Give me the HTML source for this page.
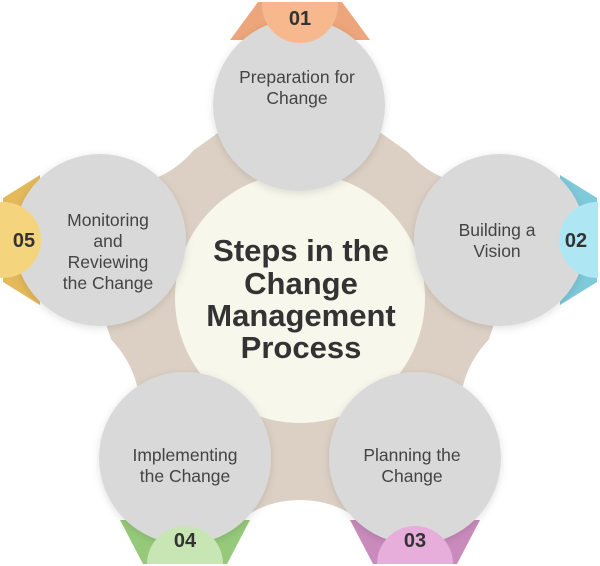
<!DOCTYPE html>
<html><head><style>
html,body{margin:0;padding:0;background:#fff;overflow:hidden;width:600px;height:566px;}
svg{display:block;}
text{font-family:"Liberation Sans",sans-serif;}
</style></head><body>
<svg width="600" height="566" viewBox="0 0 600 566" xmlns="http://www.w3.org/2000/svg">
<defs>
<clipPath id="pg"><rect x="0" y="2" width="598" height="562"/></clipPath>
<filter id="sh" x="-20%" y="-20%" width="140%" height="140%"><feDropShadow dx="0" dy="2" stdDeviation="4" flood-color="#000" flood-opacity="0.12"/></filter>
</defs>
<polygon points="299,75 525,235 440,480 160,480 75,235" fill="#dcd0c4"/>
<polygon points="299,100 500,240 415,520 185,520 100,240" fill="#dcd0c4"/>
<g fill="#fff">
<circle cx="480" cy="90" r="95"/>
<circle cx="120" cy="90" r="95"/>
<circle cx="300" cy="600" r="100"/>
<circle cx="560" cy="410" r="100"/>
<circle cx="40" cy="410" r="100"/>
</g>
<circle cx="300" cy="298" r="125" fill="#f7f7ec"/>
<g clip-path="url(#pg)">
<polygon points="258,2 342,2 370,40 230,40" fill="#eda57b"/>
<polygon points="597,198 597,282 560,305 560,175" fill="#7ec9da"/>
<polygon points="457,564 373,564 350,520 480,520" fill="#c98bbc"/>
<polygon points="227,564 143,564 120,520 250,520" fill="#96c97a"/>
<polygon points="3,198 3,282 40,305 40,175" fill="#e3b95a"/>
<circle cx="299" cy="105" r="86" fill="#d9d9d9" filter="url(#sh)"/>
<circle cx="500" cy="240" r="86" fill="#d9d9d9" filter="url(#sh)"/>
<circle cx="415" cy="458" r="86" fill="#d9d9d9" filter="url(#sh)"/>
<circle cx="185" cy="458" r="86" fill="#d9d9d9" filter="url(#sh)"/>
<circle cx="100" cy="240" r="86" fill="#d9d9d9" filter="url(#sh)"/>
<circle cx="300" cy="5" r="38" fill="#f8b88e"/>
<circle cx="597" cy="240" r="38" fill="#aee6f3"/>
<circle cx="415" cy="564" r="38" fill="#e8aedb"/>
<circle cx="185" cy="564" r="38" fill="#c8e6b4"/>
<circle cx="3" cy="240" r="38" fill="#f5d47e"/>
</g>
<g font-weight="bold" font-size="20" fill="#333" text-anchor="middle">
<text x="300" y="25">01</text>
<text x="576" y="247">02</text>
<text x="415" y="547">03</text>
<text x="185" y="547">04</text>
<text x="24" y="247">05</text>
</g>
<g font-size="17.5" fill="#444" text-anchor="middle">
<text x="297" y="83">Preparation for</text>
<text x="297" y="104">Change</text>
<text x="497" y="236">Building a</text>
<text x="497" y="257">Vision</text>
<text x="412" y="461">Planning the</text>
<text x="412" y="482">Change</text>
<text x="185" y="461">Implementing</text>
<text x="185" y="482">the Change</text>
<text x="108" y="226">Monitoring</text>
<text x="108" y="247">and</text>
<text x="108" y="268">Reviewing</text>
<text x="108" y="289">the Change</text>
</g>
<g font-size="31" font-weight="bold" fill="#333" text-anchor="middle">
<text x="301" y="261">Steps in the</text>
<text x="301" y="294">Change</text>
<text x="301" y="326">Management</text>
<text x="301" y="358">Process</text>
</g>
</svg>
</body></html>
